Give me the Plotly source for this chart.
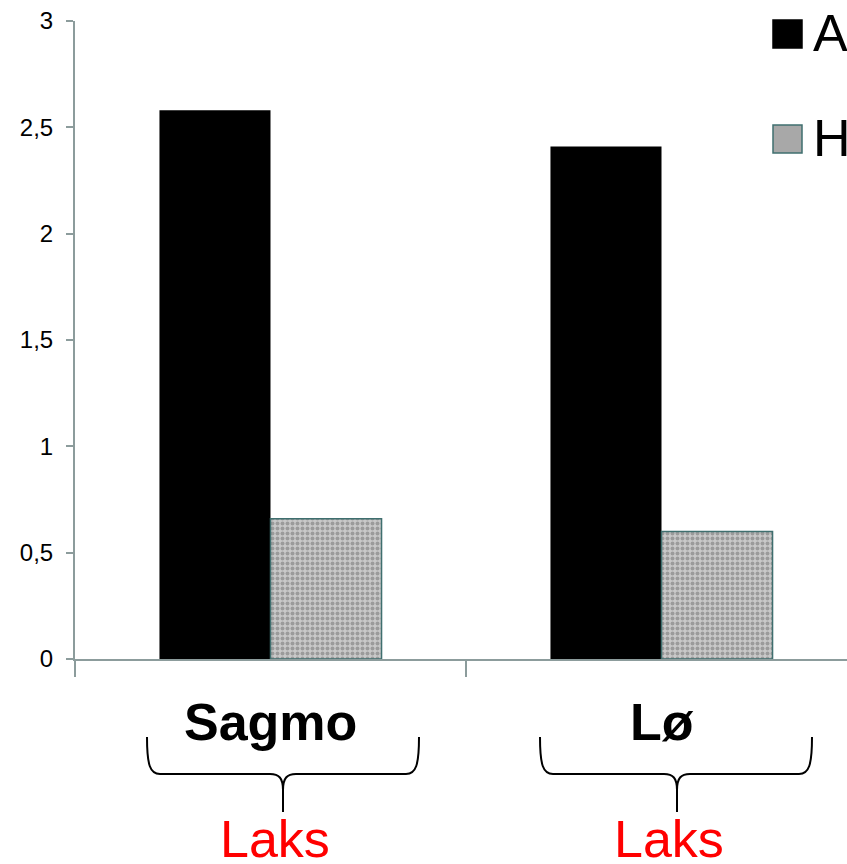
import plotly.graph_objects as go

# Data
categories = ["Sagmo", "Lø"]
series_names = ["A", "H"]
values_a = [2.58, 2.41]
values_h = [0.66, 0.60]
group_labels = ["Laks", "Laks"]
y_ticks = [0, 0.5, 1, 1.5, 2, 2.5, 3]

W, H = 847, 864
L, R, T, B = 75, 0, 21, 205
PW, PH = W - L - R, H - T - B


def px(x):
    """pixel x -> paper x"""
    return (x - L) / PW


def py(y):
    """pixel y -> paper y"""
    return (H - B - y) / PH


AXIS = "#8c9c9c"
FONT = "Liberation Sans, Arial, sans-serif"

fig = go.Figure()
fig.add_trace(go.Bar(
    x=categories, y=values_a, name=series_names[0],
    marker=dict(color="#000000", line=dict(width=0)),
))
fig.add_trace(go.Bar(
    x=categories, y=values_h, name=series_names[1],
    marker=dict(
        color="#a8a8a8",
        line=dict(color="#3f6f6f", width=1.5),
        pattern=dict(shape=".", size=5, solidity=0.5,
                     fgcolor="#6e6e6e", bgcolor="#c9c9c9"),
    ),
))

# category labels and group labels under the axis
for i, c in enumerate(categories):
    fig.add_annotation(x=i, y=py(722), xref="x", yref="paper", text=f"<b>{c}</b>",
                       showarrow=False, font=dict(family=FONT, size=52, color="#000000"),
                       xanchor="center", yanchor="middle")

brace_specs = [(147, 419, 283, 275), (540, 812, 677, 669)]
top, mid, tip = 737, 774, 812
for (bl, br, bc, lx), lab in zip(brace_specs, group_labels):
    pts = [
        f"M {px(bl)},{py(top)}",
        f"C {px(bl)},{py(765)} {px(bl + 3)},{py(mid)} {px(bl + 13)},{py(mid)}",
        f"L {px(bc - 13)},{py(mid)}",
        f"C {px(bc - 4)},{py(mid)} {px(bc)},{py(mid + 4)} {px(bc)},{py(790)}",
        f"L {px(bc)},{py(tip)}",
        f"M {px(bc)},{py(790)}",
        f"C {px(bc)},{py(mid + 4)} {px(bc + 4)},{py(mid)} {px(bc + 13)},{py(mid)}",
        f"L {px(br - 13)},{py(mid)}",
        f"C {px(br - 3)},{py(mid)} {px(br)},{py(765)} {px(br)},{py(top)}",
    ]
    fig.add_shape(type="path", path=" ".join(pts), xref="paper", yref="paper",
                  line=dict(color="#000000", width=2))
    fig.add_annotation(x=px(lx), y=py(839), xref="paper", yref="paper", text=lab,
                       showarrow=False, font=dict(family=FONT, size=52, color="#ff0000"),
                       xanchor="center", yanchor="middle")

# legend
legend_items = [
    (series_names[0], 20, "#000000", "#000000"),
    (series_names[1], 125, "#a8a8a8", "#3f6f6f"),
]
for name, ytop, fill, edge in legend_items:
    fig.add_shape(type="rect", xref="paper", yref="paper",
                  x0=px(773), x1=px(802), y0=py(ytop), y1=py(ytop + 28),
                  fillcolor=fill, line=dict(color=edge, width=1.5))
    fig.add_annotation(x=px(811), y=py(ytop + 13), xref="paper", yref="paper", text=name,
                       showarrow=False, font=dict(family=FONT, size=52, color="#000000"),
                       xanchor="left", yanchor="middle")

fig.update_layout(
    width=W, height=H,
    margin=dict(l=L, r=R, t=T, b=B, pad=0),
    paper_bgcolor="white", plot_bgcolor="white",
    barmode="group", bargap=0.432, bargroupgap=0,
    showlegend=False,
    separators=", ",
    font=dict(family=FONT, color="#000000"),
)
fig.update_xaxes(
    type="category", range=[-0.5, -0.5 + PW / 391],
    showline=True, linecolor=AXIS, linewidth=2,
    ticks="outside", tickson="boundaries", ticklen=16, tickwidth=2, tickcolor=AXIS,
    showticklabels=False, showgrid=False, zeroline=False,
)
fig.update_yaxes(
    range=[0, 3], tickvals=y_ticks,
    showline=True, linecolor=AXIS, linewidth=2,
    ticks="outside", ticklen=7, tickwidth=2, tickcolor=AXIS,
    tickfont=dict(family=FONT, size=24, color="#000000"),
    showgrid=False, zeroline=False, ticklabelstandoff=8,
)

fig.write_html("out.html")
